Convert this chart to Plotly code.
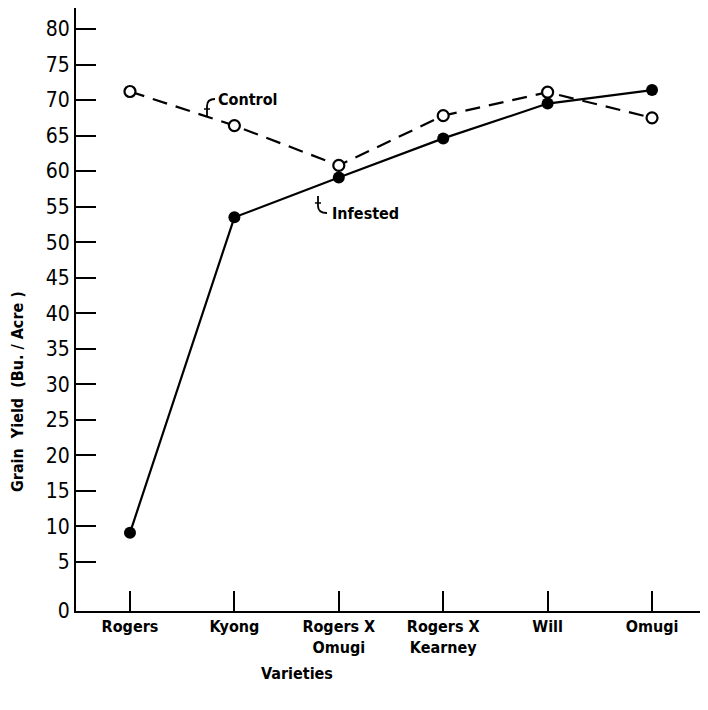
import plotly.graph_objects as go

varieties = ["Rogers", "Kyong", "Rogers X<br>Omugi", "Rogers X<br>Kearney", "Will", "Omugi"]
control = [71.2, 66.4, 60.8, 67.8, 71.1, 67.5]
infested = [9.1, 53.5, 59.1, 64.6, 69.5, 71.4]
y_tick_vals = [5, 10, 15, 20, 25, 30, 35, 40, 45, 50, 55, 60, 65, 70, 75, 80]

Y_MIN, Y_MAX = -1.9, 82.95
FONT = "DejaVu Sans Condensed"
OFF = 8  # page body margin of the html page
W, H = 700, 702
L, R, T, B = 68, 0, 0, 99
PW, PH = W - L - R, H - T - B


def px(x, y):
    """convert page pixel position to paper coordinates"""
    return (x - OFF - L) / PW, (OFF + H - B - y) / PH


fig = go.Figure()
fig.add_trace(go.Scatter(
    x=varieties, y=control, mode="lines", name="Control",
    line=dict(color="black", width=2.2, dash="15px,9px"),
    cliponaxis=False,
))
fig.add_trace(go.Scatter(
    x=varieties, y=control, mode="markers", name="Control",
    marker=dict(symbol="circle", size=11, color="white", line=dict(width=2.2, color="black")),
    cliponaxis=False,
))
fig.add_trace(go.Scatter(
    x=varieties, y=infested, mode="lines+markers", name="Infested",
    line=dict(color="black", width=2.2),
    marker=dict(symbol="circle", size=12, color="black"),
    cliponaxis=False,
))

tickvals = [Y_MIN] + y_tick_vals
ticktext = ["0"] + [str(v) for v in y_tick_vals]

fig.update_layout(
    width=W, height=H,
    margin=dict(l=L, r=R, t=T, b=B, autoexpand=False),
    paper_bgcolor="white", plot_bgcolor="white",
    showlegend=False,
    font=dict(family=FONT, color="black", size=16, weight="bold"),
    xaxis=dict(
        type="category", range=[-0.517, 5.536],
        showline=True, linecolor="black", linewidth=2,
        ticks="inside", ticklen=20, tickwidth=2, tickcolor="black",
        showgrid=False, zeroline=False,
        tickfont=dict(family=FONT, size=16, color="black", weight="bold"),
    ),
    yaxis=dict(
        range=[Y_MIN, Y_MAX],
        tickvals=tickvals, ticktext=ticktext,
        showline=True, linecolor="black", linewidth=2,
        ticks="inside", ticklen=20, tickwidth=2, tickcolor="black",
        showgrid=False, zeroline=False,
        tickfont=dict(family=FONT, size=21, color="black", weight="normal"),
    ),
)

# axis titles as annotations
vx, vy = px(297, 673)
fig.add_annotation(text="Varieties", xref="paper", yref="paper", x=vx, y=vy,
                   xanchor="center", yanchor="middle", showarrow=False,
                   font=dict(family=FONT, size=16, color="black", weight="bold"))
tx, ty = px(17, 392)
fig.add_annotation(text="Grain  Yield  (Bu. / Acre )", xref="paper", yref="paper",
                   x=tx, y=ty, xanchor="center", yanchor="middle",
                   textangle=-90, showarrow=False,
                   font=dict(family=FONT, size=16, color="black", weight="bold"))

# line labels
cx, cy = px(216, 100)
fig.add_annotation(text="Control", xref="paper", yref="paper", x=cx, y=cy,
                   xanchor="left", yanchor="middle", showarrow=False,
                   font=dict(family=FONT, size=16, color="black", weight="bold"))
ix, iy = px(330, 213)
fig.add_annotation(text="Infested", xref="paper", yref="paper", x=ix, y=iy,
                   xanchor="left", yanchor="middle", showarrow=False,
                   font=dict(family=FONT, size=16, color="black", weight="bold"))


def path(points_cmds):
    out = []
    for cmd, pts in points_cmds:
        coords = " ".join(f"{px(a, b)[0]:.5f},{px(a, b)[1]:.5f}" for a, b in pts)
        out.append(f"{cmd} {coords}")
    return " ".join(out)


# hook pointers
hooks = [
    path([("M", [(215, 99)]), ("Q", [(207, 99), (207, 106)]), ("L", [(207, 116)])]),
    path([("M", [(327, 213)]), ("Q", [(318, 213), (318, 206)]), ("L", [(318, 196)])]),
]
heads = [
    path([("M", [(204, 109)]), ("L", [(210, 109), (207, 117)]), ("Z", [])]),
    path([("M", [(315, 203)]), ("L", [(321, 203), (318, 195)]), ("Z", [])]),
]
for p in hooks:
    fig.add_shape(type="path", path=p, xref="paper", yref="paper",
                  line=dict(color="black", width=1.8))
for p in heads:
    fig.add_shape(type="path", path=p, xref="paper", yref="paper",
                  line=dict(color="black", width=1), fillcolor="black")

fig.write_html("out.html")
